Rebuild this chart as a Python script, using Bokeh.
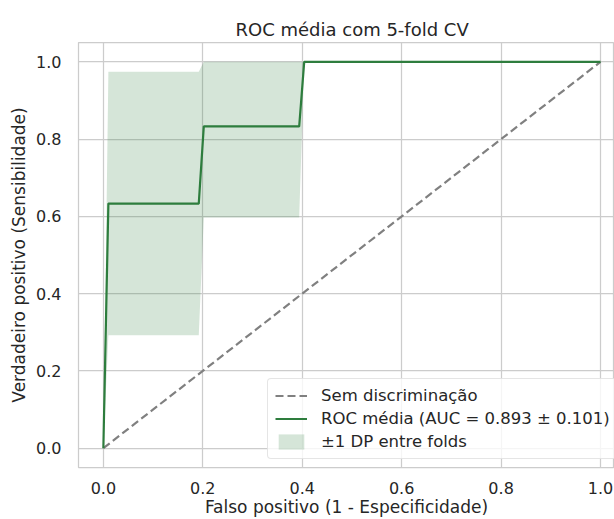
from bokeh.plotting import figure
from bokeh.models import Range1d, FixedTicker, Legend, LegendItem, NumeralTickFormatter, ColumnDataSource
from bokeh.embed import file_html
from bokeh.resources import INLINE

# ---- data ----
mean_fpr = [0.0, 0.0101, 0.1919, 0.2020, 0.3939, 0.4040, 1.0]
mean_tpr = [0.0, 0.633, 0.633, 0.833, 0.833, 1.0, 1.0]
std_tpr = [0.0, 0.341, 0.341, 0.236, 0.236, 0.0, 0.0]
chance_x = [0.0, 1.0]
chance_y = [0.0, 1.0]
ticks = [0.0, 0.2, 0.4, 0.6, 0.8, 1.0]
mean_auc = 0.893
std_auc = 0.101

upper = [min(t + s, 1.0) for t, s in zip(mean_tpr, std_tpr)]
lower = [max(t - s, 0.0) for t, s in zip(mean_tpr, std_tpr)]
src = ColumnDataSource(dict(x=mean_fpr, y=mean_tpr, up=upper, lo=lower))

FONT = "DejaVu Sans"
TXT = "#262626"
GRID = "#cccccc"
GREEN = "#2e7d3e"

p = figure(width=614, height=519,
           x_range=Range1d(-0.05, 1.0281), y_range=Range1d(-0.05, 1.05),
           output_backend="svg", toolbar_location=None,
           title="ROC média com 5-fold CV",
           min_border_left=78, min_border_right=0, min_border_top=42, min_border_bottom=52)

p.title.align = "left"
p.title.offset = 157
p.title.text_font = FONT
p.title.text_font_size = "18px"
p.title.text_font_style = "normal"
p.title.text_color = TXT
p.title.standoff = 5

p.outline_line_color = GRID
p.outline_line_width = 1.25
p.background_fill_color = "white"
p.border_fill_color = "white"

for ax in (p.xaxis[0], p.yaxis[0]):
    ax.ticker = FixedTicker(ticks=ticks)
    ax.formatter = NumeralTickFormatter(format="0.0")
    ax.axis_line_color = None
    ax.major_tick_line_color = None
    ax.minor_tick_line_color = None
    ax.major_label_text_font = FONT
    ax.major_label_text_font_size = "16px"
    ax.major_label_text_color = TXT
    ax.axis_label_text_font = FONT
    ax.axis_label_text_font_size = "17px"
    ax.axis_label_text_font_style = "normal"
    ax.axis_label_text_color = TXT

p.xaxis.axis_label = "Falso positivo (1 - Especificidade)"
p.yaxis.axis_label = "Verdadeiro positivo (Sensibilidade)"
p.xaxis.major_label_standoff = 8
p.xaxis.axis_label_standoff = 0
p.yaxis.major_label_standoff = 11
p.yaxis.axis_label_standoff = 4

for g in (p.xgrid[0], p.ygrid[0]):
    g.ticker = FixedTicker(ticks=ticks)
    g.grid_line_color = GRID
    g.grid_line_width = 1.25

r_chance = p.line(chance_x, chance_y, line_color="gray", line_width=2.2, line_dash="8 4")
r_mean = p.line("x", "y", source=src, line_color=GREEN, line_width=2.2)
r_band = p.varea(x="x", y1="lo", y2="up", source=src, fill_color=GREEN, fill_alpha=0.2)

legend = Legend(items=[
    LegendItem(label="Sem discriminação", renderers=[r_chance]),
    LegendItem(label=f"ROC média (AUC = {mean_auc:.3f} ± {std_auc:.3f})", renderers=[r_mean]),
    LegendItem(label="±1 DP entre folds", renderers=[r_band]),
], location=(189, 8))
legend.label_text_font = FONT
legend.label_text_font_size = "16.5px"
legend.label_text_color = TXT
legend.glyph_width = 32
legend.glyph_height = 19
legend.label_height = 19
legend.label_standoff = 14
legend.spacing = 4
legend.padding = 7
legend.margin = 0
legend.border_line_color = GRID
legend.border_line_width = 1
legend.background_fill_alpha = 0.8
if "border_radius" in legend.properties():
    legend.border_radius = 4
p.add_layout(legend)

open("out.html", "w").write(file_html(p, INLINE))
